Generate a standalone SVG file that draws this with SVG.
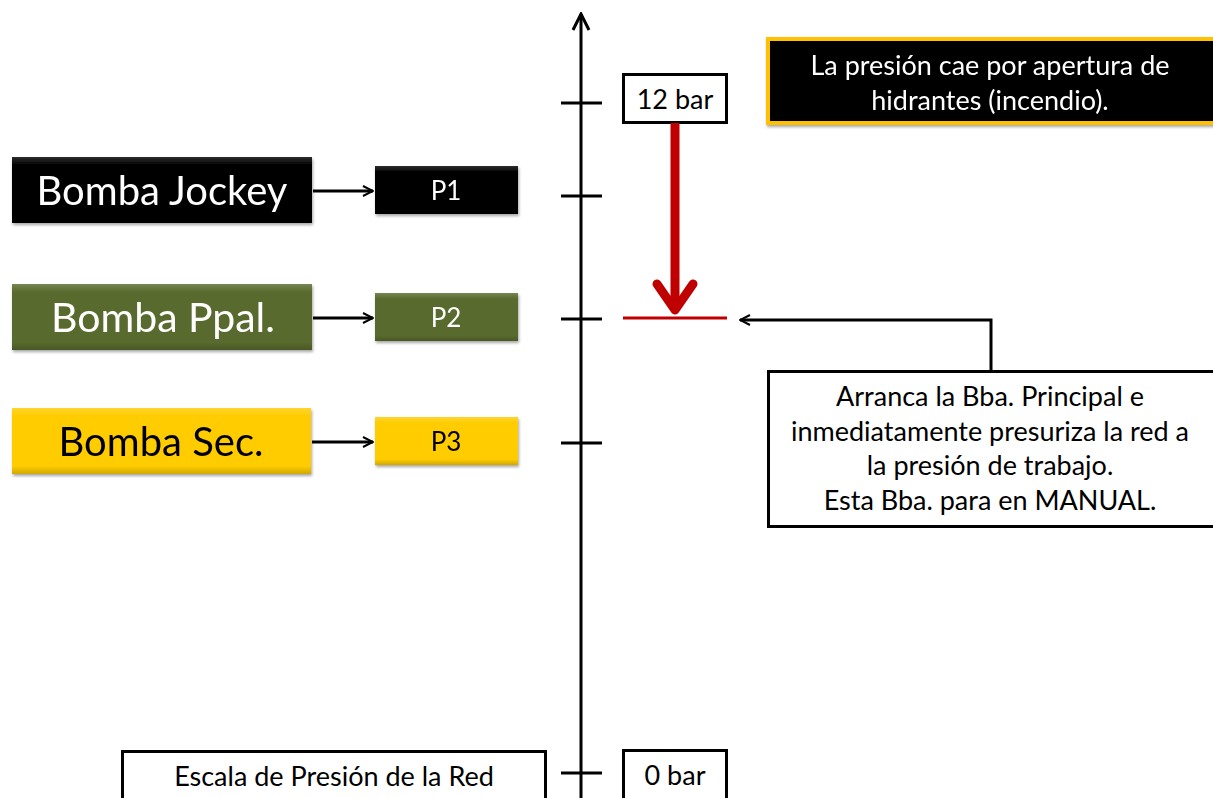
<svg xmlns="http://www.w3.org/2000/svg" width="1213" height="798" viewBox="0 0 1213 798">
<style>
.lbl{font-family:Lato,"Open Sans","Liberation Sans",sans-serif;text-anchor:middle}
.ln{stroke:#000;stroke-width:3;fill:none}
.box{fill:#fff;stroke:#000;stroke-width:3}
</style>
<defs>
<marker id="ah" viewBox="0 0 12 12" refX="11" refY="6" markerWidth="12" markerHeight="12" markerUnits="userSpaceOnUse" orient="auto">
<path d="M1,1 L11,6 L1,11" fill="none" stroke="#000" stroke-width="2"/>
</marker>
<marker id="ahBig" viewBox="0 0 20 20" refX="18" refY="10" markerWidth="20" markerHeight="20" markerUnits="userSpaceOnUse" orient="auto">
<path d="M2,2 L18,10 L2,18" fill="none" stroke="#000" stroke-width="3"/>
</marker>
<filter id="sh" x="-5%" y="-10%" width="110%" height="130%">
<feDropShadow dx="1" dy="2" stdDeviation="1.5" flood-color="#000" flood-opacity="0.35"/>
</filter>
<linearGradient id="bev" x1="0" y1="0" x2="0" y2="1">
<stop offset="0" stop-color="#fff" stop-opacity="0.18"/>
<stop offset="0.12" stop-color="#fff" stop-opacity="0"/>
<stop offset="0.88" stop-color="#000" stop-opacity="0"/>
<stop offset="1" stop-color="#000" stop-opacity="0.18"/>
</linearGradient>
</defs>

<g id="axis">
<line x1="581" y1="798" x2="581" y2="14" class="ln" marker-end="url(#ahBig)"/>
<line x1="561" y1="103" x2="602" y2="103" class="ln"/>
<line x1="561" y1="196" x2="602" y2="196" class="ln"/>
<line x1="561" y1="319" x2="602" y2="319" class="ln"/>
<line x1="561" y1="443" x2="602" y2="443" class="ln"/>
<line x1="561" y1="773" x2="602" y2="773" class="ln"/>
</g>

<g id="bomba-jockey" filter="url(#sh)">
<rect x="12" y="157" width="300" height="66" fill="#000"/>
<rect x="12" y="157" width="300" height="66" fill="url(#bev)"/>
<text x="162" y="205" class="lbl" font-size="40" fill="#fff">Bomba Jockey</text>
</g>
<g id="p1" filter="url(#sh)">
<rect x="375" y="166" width="143" height="48" fill="#000"/>
<rect x="375" y="166" width="143" height="48" fill="url(#bev)"/>
<text x="446" y="200" class="lbl" font-size="26" fill="#fff">P1</text>
</g>

<g id="bomba-ppal" filter="url(#sh)">
<rect x="12" y="284" width="300" height="66" fill="#596b2e"/>
<rect x="12" y="284" width="300" height="66" fill="url(#bev)"/>
<text x="163" y="332" class="lbl" font-size="41" fill="#fff">Bomba Ppal.</text>
</g>
<g id="p2" filter="url(#sh)">
<rect x="375" y="293" width="143" height="48" fill="#596b2e"/>
<rect x="375" y="293" width="143" height="48" fill="url(#bev)"/>
<text x="446" y="327" class="lbl" font-size="26" fill="#fff">P2</text>
</g>

<g id="bomba-sec" filter="url(#sh)">
<rect x="12" y="408" width="299" height="66" fill="#ffcc00"/>
<rect x="12" y="408" width="299" height="66" fill="url(#bev)"/>
<text x="161" y="456" class="lbl" font-size="40" fill="#000">Bomba Sec.</text>
</g>
<g id="p3" filter="url(#sh)">
<rect x="375" y="417" width="143" height="48" fill="#ffcc00"/>
<rect x="375" y="417" width="143" height="48" fill="url(#bev)"/>
<text x="446" y="451" class="lbl" font-size="26" fill="#000">P3</text>
</g>

<g id="label-12bar">
<rect x="623.5" y="74.5" width="103" height="48" class="box"/>
<text x="675" y="109" class="lbl" font-size="27" fill="#000">12 bar</text>
</g>

<g id="label-0bar">
<rect x="623.5" y="750.5" width="103" height="60" class="box"/>
<text x="675" y="785" class="lbl" font-size="27" fill="#000">0 bar</text>
</g>

<g id="escala">
<rect x="122.5" y="751.5" width="423" height="60" class="box"/>
<text x="334" y="786" class="lbl" font-size="27" fill="#000">Escala de Presión de la Red</text>
</g>

<g id="note-top" filter="url(#sh)">
<rect x="768" y="39" width="448" height="84" fill="#000" stroke="#ffc000" stroke-width="4"/>
<text x="990" y="75" class="lbl" font-size="27" fill="#fff">La presión cae por apertura de</text>
<text x="990" y="110" class="lbl" font-size="27" fill="#fff">hidrantes (incendio).</text>
</g>

<g id="note-callout">
<rect x="768.5" y="371.5" width="450" height="155" class="box"/>
<text x="990" y="406" class="lbl" font-size="27" fill="#000">Arranca la Bba. Principal e</text>
<text x="990" y="441" class="lbl" font-size="27" fill="#000">inmediatamente presuriza la red a</text>
<text x="990" y="475" class="lbl" font-size="27" fill="#000">la presión de trabajo.</text>
<text x="990" y="510" class="lbl" font-size="27" fill="#000">Esta Bba. para en MANUAL.</text>
</g>

<g id="pressure-drop">
<line x1="675" y1="123" x2="675" y2="308" stroke="#c00000" stroke-width="9"/>
<polyline points="657,284 675,310 693,284" fill="none" stroke="#c00000" stroke-width="9" stroke-linecap="round" stroke-linejoin="round"/>
<line x1="623" y1="318" x2="727" y2="318" stroke="#c00000" stroke-width="3"/>
</g>

<g id="connectors">
<line x1="313" y1="191" x2="373" y2="191" class="ln" stroke-width="2" marker-end="url(#ah)"/>
<line x1="313" y1="318" x2="373" y2="318" class="ln" stroke-width="2" marker-end="url(#ah)"/>
<line x1="312" y1="442" x2="373" y2="442" class="ln" stroke-width="2" marker-end="url(#ah)"/>
<polyline points="991,371 991,320 740,320" class="ln" stroke-width="2" marker-end="url(#ah)"/>
</g>
</svg>
